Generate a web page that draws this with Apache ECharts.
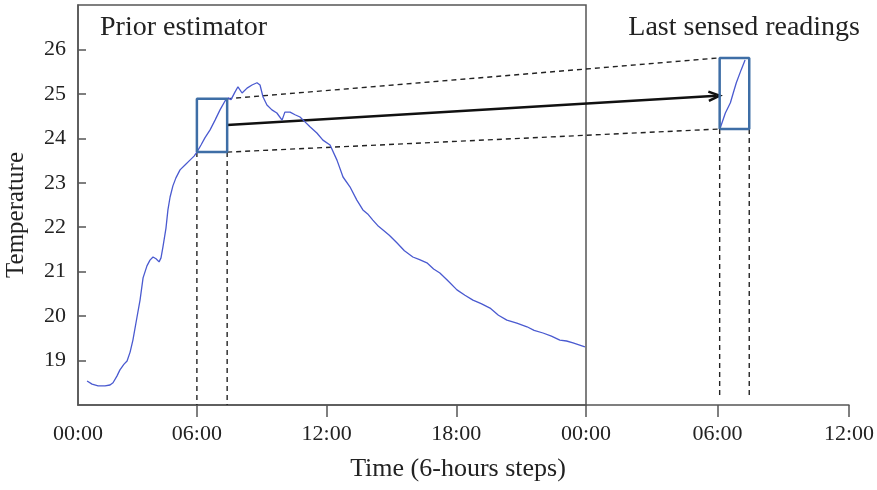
<!DOCTYPE html>
<html>
<head>
<meta charset="utf-8">
<script src="https://cdn.jsdelivr.net/npm/echarts@6/dist/echarts.min.js"></script>
<style>
  html, body { margin: 0; padding: 0; background: #fff; }
  #main { width: 877px; height: 490px; }
</style>
</head>
<body>
<div id="main"></div>
<script>
// prior estimator curve (hours, degrees)
const priorHours = [0.92, 1.15, 1.43, 1.75, 1.98, 2.12, 2.30, 2.44, 2.63, 2.77, 2.91, 3.04, 3.23, 3.37, 3.51, 3.69, 3.83, 3.97, 4.11, 4.25, 4.34, 4.43, 4.57, 4.66, 4.76, 4.89, 5.03, 5.22, 5.45, 5.68, 5.87, 6.00, 6.19, 6.37, 6.61, 6.84, 7.07, 7.30, 7.44, 7.58, 7.76, 7.90, 8.09, 8.32, 8.55, 8.78, 8.92, 9.06, 9.24, 9.47, 9.70, 9.94, 10.07, 10.31, 10.54, 10.77, 11.00, 11.23, 11.55, 11.83, 12.16, 12.48, 12.76, 13.08, 13.40, 13.68, 13.90, 14.14, 14.40, 14.61, 14.90, 15.25, 15.60, 15.99, 16.30, 16.64, 16.95, 17.24, 17.60, 18.03, 18.40, 18.77, 19.15, 19.56, 19.95, 20.34, 20.80, 21.27, 21.60, 22.01, 22.40, 22.79, 23.10, 23.40, 23.95];
const priorTemp = [18.54, 18.47, 18.43, 18.43, 18.45, 18.50, 18.65, 18.79, 18.92, 18.99, 19.19, 19.46, 19.98, 20.36, 20.86, 21.13, 21.26, 21.33, 21.29, 21.22, 21.31, 21.56, 21.98, 22.39, 22.68, 22.93, 23.11, 23.29, 23.40, 23.51, 23.60, 23.69, 23.85, 24.01, 24.19, 24.41, 24.64, 24.84, 24.91, 24.87, 25.04, 25.16, 25.02, 25.13, 25.20, 25.25, 25.20, 24.93, 24.75, 24.64, 24.57, 24.41, 24.59, 24.59, 24.53, 24.48, 24.37, 24.26, 24.12, 23.96, 23.85, 23.51, 23.13, 22.91, 22.61, 22.39, 22.30, 22.16, 22.02, 21.94, 21.82, 21.65, 21.47, 21.33, 21.27, 21.20, 21.06, 20.97, 20.80, 20.59, 20.47, 20.36, 20.28, 20.18, 20.02, 19.91, 19.84, 19.76, 19.68, 19.62, 19.55, 19.46, 19.44, 19.40, 19.31];

// last sensed readings
const lastHours = [6.13, 6.36, 6.59, 6.72, 6.86, 7.08, 7.26];
const lastTemp = [24.24, 24.57, 24.80, 25.02, 25.25, 25.54, 25.76];

// windows
const priorWindow = [6.0, 7.4];
const priorWindowTemp = [23.69, 24.89];
const lastWindow = [6.1, 7.45];
const lastWindowTemp = [24.21, 25.81];
const arrowFrom = [7.4, 24.30];   // left panel
const arrowTo = [6.1, 24.96];     // right panel

// ticks
const yTicks = [19, 20, 21, 22, 23, 24, 25, 26];
const leftTickHours = [6, 12, 18, 24];
const leftLabelHours = [0.5, 6, 12, 18];
const rightTickHours = [0, 6, 12];
const yMin = 18, yMax = 27;

const FONT = 'Liberation Serif';
const AXIS = '#555';
const CURVE = '#4a5ad0';
const BOX = '#3e6ea6';

const hourFmt = v => String(Math.floor(v) % 24).padStart(2, '0') + ':00';
const zip = (xs, ys) => xs.map((x, i) => [x, ys[i]]);
const rect = (xs, ys) => [[xs[0], ys[0]], [xs[1], ys[0]], [xs[1], ys[1]], [xs[0], ys[1]], [xs[0], ys[0]]];

const dashed = { color: '#222', width: 1.4, type: [5, 4] };

const chart = echarts.init(document.getElementById('main'));
chart.setOption({
    animation: false,
    grid: [
        { left: 78, top: 5, width: 508, height: 400, show: true, borderColor: AXIS, borderWidth: 1.5 },
        { left: 586, top: 5, width: 266, height: 400 }
    ],
    xAxis: [
        {
            gridIndex: 0, type: 'value', min: 0.5, max: 24,
            axisLine: { lineStyle: { color: AXIS, width: 1.5 } },
            axisTick: { customValues: leftTickHours, length: 12, lineStyle: { color: AXIS, width: 1.5 } },
            axisLabel: { customValues: leftLabelHours, formatter: hourFmt, margin: 18, color: '#222', fontFamily: FONT, fontSize: 22 },
            splitLine: { show: false }
        },
        {
            gridIndex: 1, type: 'value', min: 0, max: 12,
            axisLine: { lineStyle: { color: AXIS, width: 1.5 } },
            axisTick: { customValues: rightTickHours, length: 12, lineStyle: { color: AXIS, width: 1.5 } },
            axisLabel: { customValues: rightTickHours, formatter: hourFmt, margin: 18, color: '#222', fontFamily: FONT, fontSize: 22 },
            splitLine: { show: false }
        }
    ],
    yAxis: [
        {
            gridIndex: 0, type: 'value', min: yMin, max: yMax,
            axisLine: { lineStyle: { color: AXIS, width: 1.5 } },
            axisTick: { customValues: yTicks, inside: true, length: 8, lineStyle: { color: AXIS, width: 1.5 } },
            axisLabel: { customValues: yTicks, margin: 12, color: '#222', fontFamily: FONT, fontSize: 22 },
            splitLine: { show: false }
        },
        { gridIndex: 1, type: 'value', min: yMin, max: yMax, show: false }
    ],
    series: [
        {
            type: 'line', xAxisIndex: 0, yAxisIndex: 0, data: zip(priorHours, priorTemp),
            showSymbol: false, lineStyle: { color: CURVE, width: 1.3 }, z: 3
        },
        {
            type: 'line', xAxisIndex: 1, yAxisIndex: 1, data: zip(lastHours, lastTemp),
            showSymbol: false, lineStyle: { color: CURVE, width: 1.3 }, z: 3
        },
        {
            type: 'line', xAxisIndex: 0, yAxisIndex: 0, data: rect(priorWindow, priorWindowTemp),
            showSymbol: false, lineStyle: { color: BOX, width: 2.5 }, z: 4
        },
        {
            type: 'line', xAxisIndex: 1, yAxisIndex: 1, data: rect(lastWindow, lastWindowTemp),
            showSymbol: false, lineStyle: { color: BOX, width: 2.5 }, z: 4
        },
        // vertical guides under the windows
        ...priorWindow.map(h => ({
            type: 'line', xAxisIndex: 0, yAxisIndex: 0, data: [[h, priorWindowTemp[0]], [h, yMin]],
            showSymbol: false, lineStyle: dashed, z: 2
        })),
        ...lastWindow.map(h => ({
            type: 'line', xAxisIndex: 1, yAxisIndex: 1, data: [[h, lastWindowTemp[0]], [h, 18.15]],
            showSymbol: false, lineStyle: dashed, z: 2
        }))
    ]
});

// lines that go from one panel to the other
const px = (g, pt) => chart.convertToPixel({ gridIndex: g }, pt);
const topA = px(0, [priorWindow[1], priorWindowTemp[1]]);
const topB = px(1, [lastWindow[0], lastWindowTemp[1]]);
const botA = px(0, [priorWindow[1], priorWindowTemp[0]]);
const botB = px(1, [lastWindow[0], lastWindowTemp[0]]);
const arA = px(0, arrowFrom);
const arB = px(1, arrowTo);
const ang = Math.atan2(arB[1] - arA[1], arB[0] - arA[0]);
const head = (len, spread) => [arB[0] - len * Math.cos(ang - spread), arB[1] - len * Math.sin(ang - spread)];

chart.setOption({
    graphic: [
        { type: 'line', shape: { x1: topA[0], y1: topA[1], x2: topB[0], y2: topB[1] }, style: { stroke: '#222', lineWidth: 1.4, lineDash: [5, 4] } },
        { type: 'line', shape: { x1: botA[0], y1: botA[1], x2: botB[0], y2: botB[1] }, style: { stroke: '#222', lineWidth: 1.4, lineDash: [5, 4] } },
        { type: 'line', shape: { x1: arA[0], y1: arA[1], x2: arB[0] - 3, y2: arB[1] }, style: { stroke: '#111', lineWidth: 2.5 } },
        { type: 'polyline', shape: { points: [head(12, 0.4), [arB[0], arB[1]], head(12, -0.4)] }, style: { stroke: '#111', lineWidth: 2.5, fill: null } },
        { type: 'text', x: 100, y: 28, style: { text: 'Prior estimator', font: '28px "' + FONT + '"', fill: '#222', textVerticalAlign: 'middle' } },
        { type: 'text', x: 860, y: 28, style: { text: 'Last sensed readings', font: '28px "' + FONT + '"', fill: '#222', textAlign: 'right', textVerticalAlign: 'middle' } },
        { type: 'text', x: 458, y: 469, style: { text: 'Time (6-hours steps)', font: '26px "' + FONT + '"', fill: '#222', textAlign: 'center', textVerticalAlign: 'middle' } },
        { type: 'text', x: 16, y: 215, rotation: Math.PI / 2, style: { text: 'Temperature', font: '25px "' + FONT + '"', fill: '#222', textAlign: 'center', textVerticalAlign: 'middle' } }
    ]
});

window.addEventListener('resize', () => {
    chart.resize()
})
</script>
</body>
</html>
